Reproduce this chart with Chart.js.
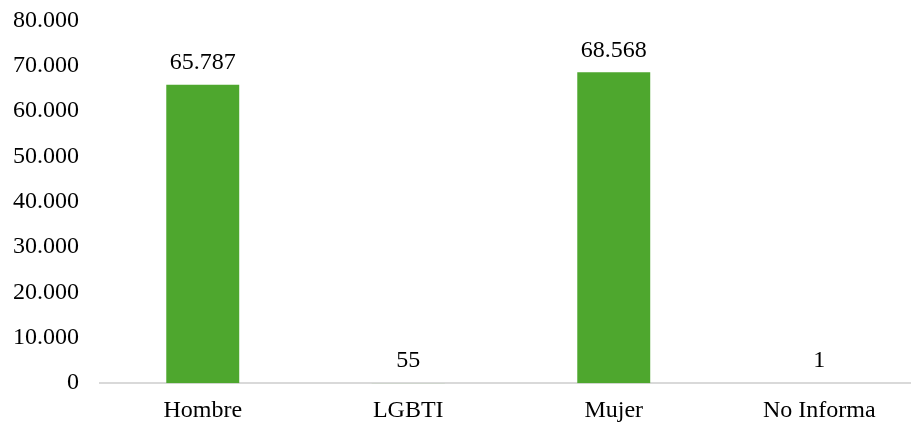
<!DOCTYPE html>
<html>
<head>
<meta charset="utf-8">
<script src="https://cdn.jsdelivr.net/npm/chart.js@4.4.1/dist/chart.umd.min.js"></script>
<style>
  html, body { margin: 0; padding: 0; background: #fff; overflow: hidden; }
  #wrap { width: 923px; height: 453px; margin-top: -15px; }
</style>
</head>
<body>
<div id="wrap"><canvas id="barChart"></canvas></div>
<script>
const categories = ['Hombre', 'LGBTI', 'Mujer', 'No Informa'];
const values = [65787, 55, 68568, 1];
const yTicks = [0, 10000, 20000, 30000, 40000, 50000, 60000, 70000, 80000];

function fmt(n) {
    return String(n).replace(/\B(?=(\d{3})+(?!\d))/g, '.');
}

const FONT = 'Liberation Serif, Times New Roman, serif';

// draws the value above each bar
const barLabels = {
    id: 'barLabels',
    afterDatasetsDraw(chart) {
        const ctx = chart.ctx;
        const meta = chart.getDatasetMeta(0);
        ctx.save();
        ctx.font = '24px ' + FONT;
        ctx.fillStyle = '#000';
        ctx.textAlign = 'center';
        ctx.textBaseline = 'middle';
        meta.data.forEach((bar, i) => {
            ctx.fillText(fmt(chart.data.datasets[0].data[i]), bar.x, bar.y - 22);
        });
        ctx.restore();
    }
};

const ctxBar = document.getElementById('barChart').getContext('2d');
const barChart = new Chart(ctxBar, {
    type: 'bar',
    data: {
        labels: categories,
        datasets: [{
            data: values,
            backgroundColor: '#4EA72E',
            barPercentage: 0.355,
            categoryPercentage: 1
        }]
    },
    options: {
        responsive: true,
        maintainAspectRatio: false,
        animation: false,
        layout: { padding: { top: 0, right: 1, bottom: 0, left: -8 } },
        plugins: {
            legend: { display: false },
            tooltip: { enabled: false }
        },
        scales: {
            x: {
                grid: { display: false, drawTicks: false },
                border: { display: true, color: '#d9d9d9', width: 2 },
                ticks: { color: '#000', font: { family: FONT, size: 24 }, padding: 13 }
            },
            y: {
                min: 0,
                max: 80000,
                afterBuildTicks(axis) {
                    axis.ticks = yTicks.map(v => ({ value: v }));
                },
                grid: { display: false, drawTicks: false },
                border: { display: false },
                ticks: {
                    color: '#000',
                    font: { family: FONT, size: 24 },
                    padding: 21,
                    callback: v => fmt(v)
                }
            }
        }
    },
    plugins: [barLabels]
});
</script>
</body>
</html>
